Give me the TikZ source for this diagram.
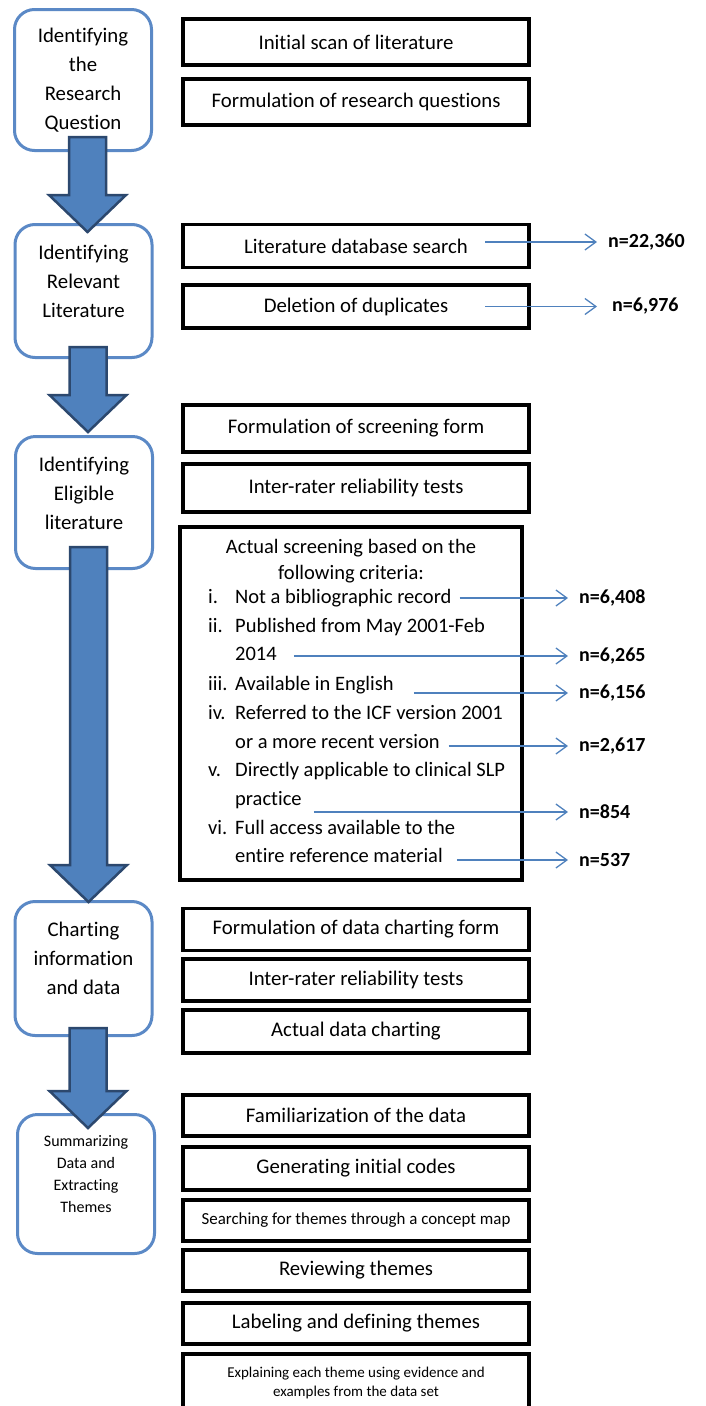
\documentclass[tikz,border=0pt]{standalone}
\usepackage{fontspec}
\setmainfont{Carlito}[Ligatures={TeX,NoCommon}]
\usetikzlibrary{arrows.meta, calc}
\definecolor{phaseblue}{RGB}{91,137,198}
\definecolor{arrowfill}{RGB}{79,129,189}
\definecolor{arrowedge}{RGB}{44,72,110}
\definecolor{countblue}{RGB}{79,129,189}
\tikzset{phase/.style={draw=phaseblue, line width=3pt, rounded corners=20pt, minimum width=137pt, fill=white},
         phasetext/.style={align=center, font=\fontsize{20.8}{29}\selectfont},
         task/.style={draw=black, line width=3.5pt, minimum width=346pt, fill=white, align=center, font=\fontsize{20.8}{24}\selectfont},
         crit/.style={anchor=west, inner sep=0pt, text height=14pt, text depth=5pt, font=\fontsize{20.5}{24}\selectfont},
         count/.style={anchor=west, inner sep=0pt, font=\fontsize{20}{24}\selectfont\bfseries},
         countarrow/.style={draw=countblue, line width=1.3pt, -{Straight Barb[length=11pt,width=16pt]}},
         bigarrow/.style={fill=arrowfill, draw=arrowedge, line width=2.5pt, line join=miter}}

% #1 source phase, #2 target phase, #3 tail above source bottom, #4 tip below target top
\newcommand{\phasearrow}[4]{%
  \path (#1.south) ++(4.5,-#3) coordinate (#1-tail);
  \path (#2.north) ++(4.5,#4) coordinate (#2-tip);
  \draw[bigarrow] let \p1=(#1-tail), \p2=(#2-tip) in
    (\x1-18.5pt,\y1) -- (\x1-18.5pt,\y2+37pt) -- (\x1-38.5pt,\y2+37pt) -- (\x1,\y2)
    -- (\x1+38.5pt,\y2+37pt) -- (\x1+18.5pt,\y2+37pt) -- (\x1+18.5pt,\y1) -- cycle;}

\begin{document}
\begin{tikzpicture}[x=1pt, y=-1pt]
        \useasboundingbox (0,0) rectangle (706,1406);
        % tasks
        \node (scan)[task, minimum height=46pt] at (356,42) {Initial scan of literature};
        \node (rqform)[task, minimum height=46pt] at (356,102) {Formulation of research questions};
        \node (dbsearch)[task, minimum height=43pt] at (356,246) {Literature database search};
        \node (dupdel)[task, minimum height=43pt] at (356,306.5) {Deletion of duplicates};
        \node (screenform)[task, minimum height=47pt] at (356,428.5) {Formulation of screening form};
        \node (irrscreen)[task, minimum height=48pt] at (356,488) {Inter-rater reliability tests};
        \node (screening)[task, minimum height=353pt, minimum width=342pt] at (351,703.5) {};
        \node (chartform)[task, minimum height=42pt] at (356,929.5) {Formulation of data charting form};
        \node (irrchart)[task, minimum height=42pt] at (356,980) {Inter-rater reliability tests};
        \node (charting)[task, minimum height=43pt] at (356,1031.5) {Actual data charting};
        \node (familiar)[task, minimum height=41pt] at (356,1115.5) {Familiarization of the data};
        \node (codes)[task, minimum height=43pt] at (356,1168.5) {Generating initial codes};
        \node (search)[task, minimum height=41pt, font=\fontsize{16.9}{20}\selectfont] at (356,1220.5) {Searching for themes through a concept map};
        \node (review)[task, minimum height=41pt] at (356,1270.5) {Reviewing themes};
        \node (label)[task, minimum height=41pt] at (356,1323.5) {Labeling and defining themes};
        \node (explain)[task, minimum height=58pt, font=\fontsize{15}{18.5}\selectfont] at (356,1383) {Explaining each theme using evidence and\\examples from the data set};
        % screening criteria
        \node (screenhead)[align=center, font=\fontsize{20.5}{26}\selectfont] at (351,561) {Actual screening based on the\\following criteria:};
        \node (num1)[crit] at (208,599) {i.};
        \node (c1)[crit] at (235,599) {Not a bibliographic record};
        \node (num2)[crit] at (208,628) {ii.};
        \node (c2a)[crit] at (235,628) {Published from May 2001-Feb};
        \node (c2)[crit] at (235,656) {2014};
        \node (num3)[crit] at (208,686) {iii.};
        \node (c3)[crit] at (235,686) {Available in English};
        \node (num4)[crit] at (208,715) {iv.};
        \node (c4a)[crit] at (235,715) {Referred to the ICF version 2001};
        \node (c4)[crit] at (235,744) {or a more recent version};
        \node (num5)[crit] at (208,772) {v.};
        \node (c5a)[crit] at (235,772) {Directly applicable to clinical SLP};
        \node (c5)[crit] at (235,801) {practice};
        \node (num6)[crit] at (208,830) {vi.};
        \node (c6a)[crit] at (235,830) {Full access available to the};
        \node (c6)[crit] at (235,858) {entire reference material};
        % counts
        \coordinate (tipsearch) at (597,0);
        \path (dbsearch.center) ++(129,-4) coordinate (dbsearch-from);
        \draw[countarrow] (dbsearch-from) -- (dbsearch-from -| tipsearch);
        \path (dbsearch-from -| tipsearch) ++(11,0) node[count] (dbsearch-n) {n=22,360};
        \path (dupdel.center) ++(129,0) coordinate (dupdel-from);
        \draw[countarrow] (dupdel-from) -- (dupdel-from -| tipsearch);
        \path (dupdel-from -| tipsearch) ++(15,0) node[count] (dupdel-n) {n=6,976};
        \coordinate (tipline) at (568,0);
        \foreach \src/\gap/\dy/\val in {c1/8/-1/6{,}408, c2/17/0/6{,}265, c3/20/7/6{,}156, c4/9/2/2{,}617, c5/12/11/854, c6/14/2/537}{
            \path (\src.east) ++(\gap,\dy) coordinate (\src-from);
            \draw[countarrow] (\src-from) -- (\src-from -| tipline);
            \path (\src-from -| tipline) ++(11,0) node[count] (\src-n) {n=\val};
        }
        % phases
        \node (question)[phase, minimum height=141pt] at (83,80) {};
        \node (questiontext)[phasetext] at (question.center) {Identifying\\the\\Research\\Question};
        \node (relevant)[phase, minimum height=133pt] at (83.5,291) {};
        \node (relevanttext)[phasetext] at ([yshift=10pt]relevant.center) {Identifying\\Relevant\\Literature};
        \node (eligible)[phase, minimum height=132pt] at (84,502.5) {};
        \node (eligibletext)[phasetext] at ([yshift=9.5pt]eligible.center) {Identifying\\Eligible\\literature};
        \node (chart)[phase, minimum height=134pt] at (83.5,968.5) {};
        \node (charttext)[phasetext] at ([yshift=10pt]chart.center) {Charting\\information\\and data};
        \node (summary)[phase, minimum height=139pt] at (86,1184) {};
        \node (summarytext)[phasetext, font=\fontsize{16}{22}\selectfont] at ([yshift=10pt]summary.center) {Summarizing\\Data and\\Extracting\\Themes};
        % arrows between phases
        \phasearrow{question}{relevant}{15}{9}
        \phasearrow{relevant}{eligible}{12}{-3}
        \phasearrow{eligible}{chart}{23}{2}
        \phasearrow{chart}{summary}{9}{15}
\end{tikzpicture}
\end{document}
